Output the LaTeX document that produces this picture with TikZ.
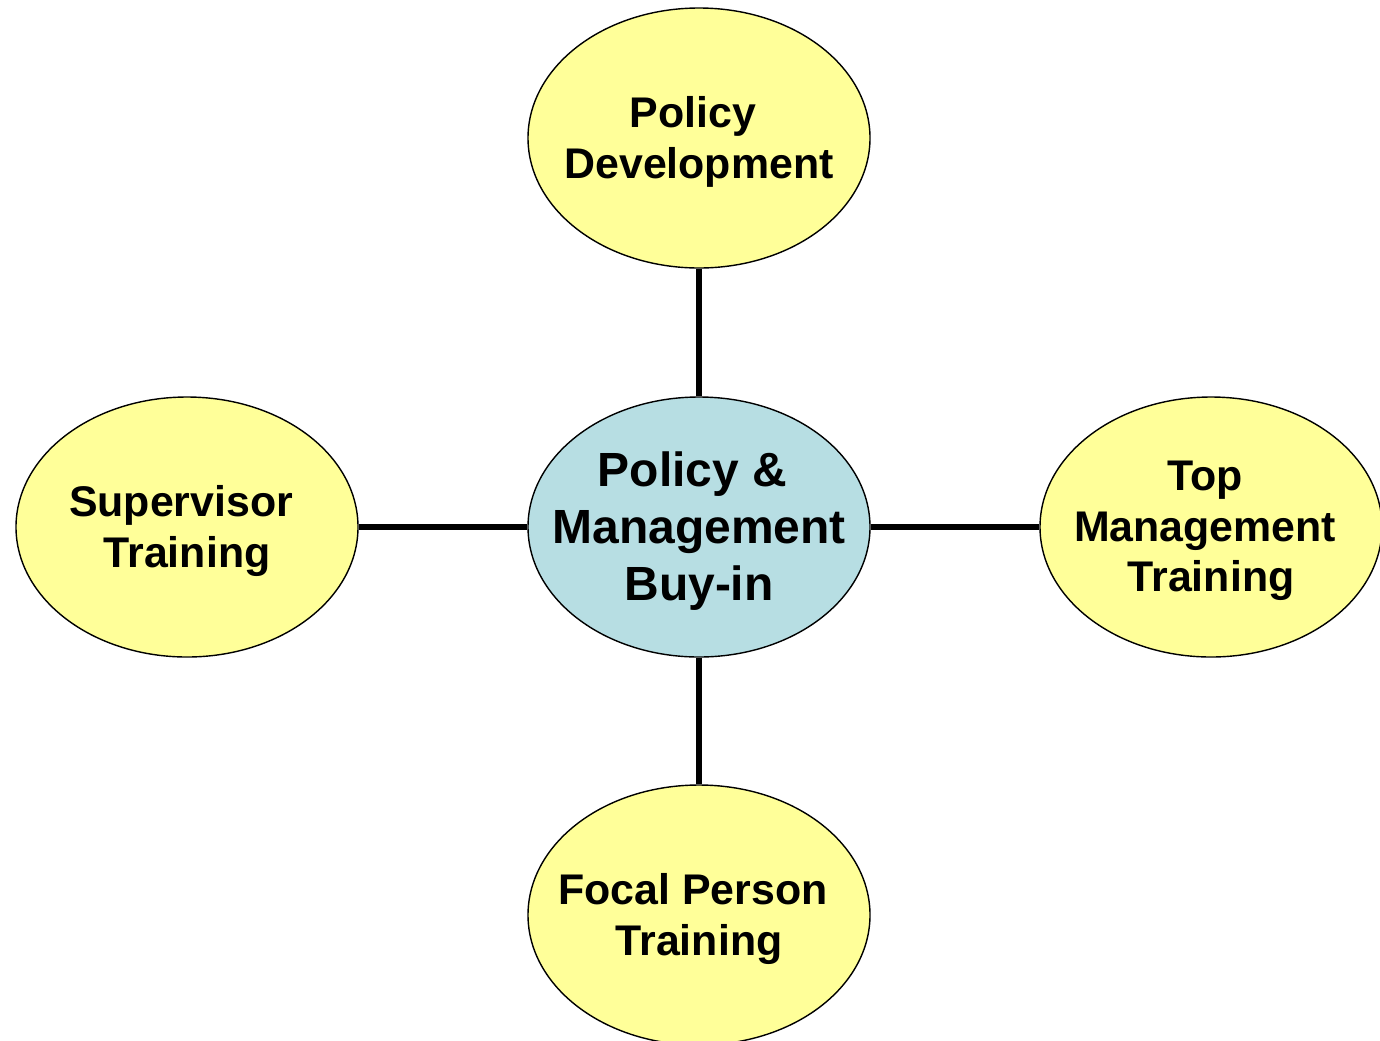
\documentclass[tikz,border=0pt]{standalone}
\usepackage{fontspec}
\setmainfont{Liberation Sans}
\usetikzlibrary{shapes.geometric}
\definecolor{bubbleyellow}{RGB}{255,255,153}
\definecolor{bubbleblue}{RGB}{183,222,227}
\def\trail{\hbox to 0.278em{}}
\tikzset{
	bubble/.style={ellipse, draw=black, line width=0.8pt, fill=bubbleyellow, minimum width=6.84cm, minimum height=5.2cm, inner sep=0pt},
	outertext/.style={align=center, font=\bfseries\fontsize{24.4}{28.7}\selectfont, yshift=-0.08cm},
	hubtext/.style={align=center, font=\bfseries\fontsize{27.3}{32.6}\selectfont, yshift=-0.08cm},
	spoke/.style={line width=2.9pt}
}
\begin{document}
\begin{tikzpicture}
		%%%%% START %%%%%
		
		\useasboundingbox (0, 0) rectangle (27.6, -20.8);
		
		\node[bubble, fill=bubbleblue, label={[hubtext]center:{Policy \&\trail\\Management\\Buy-in}}] (buyin) at (13.98, -10.54) {};
		
		\node[bubble, label={[outertext]center:{Policy\trail\\Development}}] (policydev) at (13.98, -2.76) {};
		\node[bubble, label={[outertext]center:{Supervisor\trail\\Training}}] (supervisor) at (3.74, -10.54) {};
		\node[bubble, label={[outertext]center:{Top\trail\\Management\trail\\Training}}] (topmgmt) at (24.22, -10.54) {};
		\node[bubble, label={[outertext]center:{Focal Person\trail\\Training}}] (focal) at (13.98, -18.3) {};
		
		\draw[spoke] (policydev) -- (buyin);
		\draw[spoke] (supervisor) -- (buyin);
		\draw[spoke] (buyin) -- (topmgmt);
		\draw[spoke] (buyin) -- (focal);
		
		%%%%% END %%%%%
\end{tikzpicture}
\end{document}
